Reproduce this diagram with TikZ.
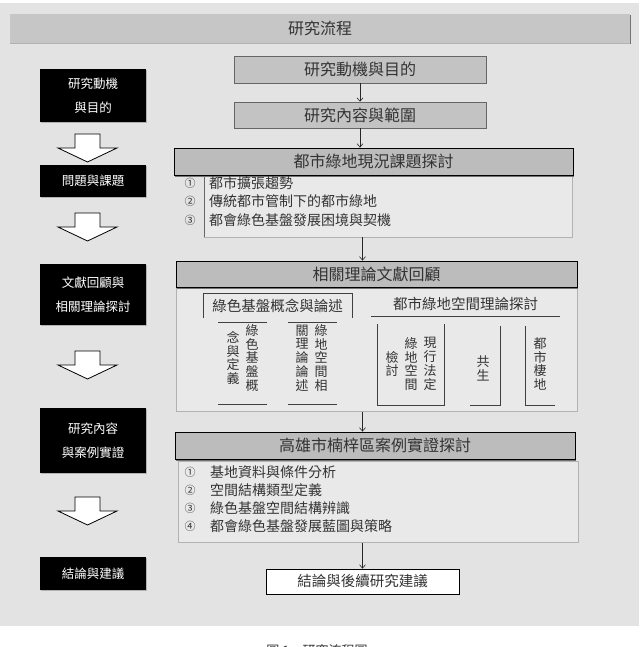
\documentclass[tikz,border=0pt]{standalone}
\usepackage{fontspec}
\setmainfont{Noto Sans CJK TC}
\usetikzlibrary{positioning,shadows,calc,arrows.meta}

\definecolor{bggray}{HTML}{E3E3E3}
\definecolor{titlegray}{HTML}{C6C6C6}
\definecolor{topgray}{HTML}{C3C3C3}
\definecolor{hdrgray}{HTML}{BCBCBC}
\definecolor{listgray}{HTML}{E9E9E9}

\begin{document}
\begin{tikzpicture}[x=1pt, y=-1pt,
    hdr/.style={draw=black, line width=0.8pt, fill=hdrgray, inner sep=0pt,
        font=\fontsize{16}{16}\selectfont, text=black!80,
        drop shadow={shadow xshift=0.6pt, shadow yshift=-1.5pt, fill=black!55, opacity=1}},
    topbox/.style={hdr, draw=black!60, line width=0.5pt, fill=topgray},
    leftbox/.style={fill=black, text=white, inner sep=0pt, minimum width=106pt, align=center,
        font=\fontsize{12.5}{23.5}\selectfont,
        drop shadow={shadow xshift=1.2pt, shadow yshift=-1.2pt, fill=black!30, opacity=1}},
    listbox/.style={draw=black!30, line width=0.5pt, fill=listgray, inner sep=0pt},
    listnum/.style={font=\fontsize{11}{11}\selectfont, inner sep=0pt, text=black!80},
    listtxt/.style={font=\fontsize{14}{14}\selectfont, inner sep=0pt, anchor=west, text=black!80},
    subtitle/.style={font=\fontsize{14.5}{14.5}\selectfont, inner sep=0pt, text=black!80},
    vtxt/.style={font=\fontsize{13}{13.8}\selectfont, align=center, inner sep=0pt, text width=13pt, text=black!80},
    frame/.style={draw=black!75, line width=0.6pt},
    flow/.style={->, >={Straight Barb[length=3.5pt,width=6pt]}, line width=0.6pt, black!85},
    blockarrow/.style={draw=black, line width=0.8pt, fill=white, line join=miter}
]
    \useasboundingbox (0,0) rectangle (639,647);
    \fill[bggray] (0,3) rectangle (639,626);

    % Title bar
    \node[hdr, draw=none, fill=titlegray, minimum width=620pt, minimum height=29pt,
        drop shadow={shadow xshift=0pt, shadow yshift=-1.2pt, fill=black!30, opacity=1}] (title) at (320,28.5) {研究流程};

    % Left column of stages
    \node[leftbox, minimum height=53pt] (lmotive) at (93,95.5) {研究動機\\與目的};
    \node[leftbox, minimum height=32pt] (lissue) at (93,181) {問題與課題};
    \node[leftbox, minimum height=61pt] (lreview) at (93,294.5) {文獻回顧與\\相關理論探討};
    \node[leftbox, minimum height=65pt] (lcase) at (93,440.5) {研究內容\\與案例實證};
    \node[leftbox, minimum height=33pt] (lconcl) at (93,573.5) {結論與建議};

    % Block arrows between stages
    \foreach \t in {134,213,351,497}
        \draw[blockarrow] (75,\t) -- (100,\t) -- (100,\t+14) -- (117,\t+14) -- (87.5,\t+28)
            -- (58,\t+14) -- (75,\t+14) -- cycle;

    % Right column: top boxes
    \node[topbox, minimum width=252pt, minimum height=27pt] (aim) at (360,69.5) {研究動機與目的};
    \node[topbox, minimum width=252pt, minimum height=26pt] (scope) at (360,115) {研究內容與範圍};

    % Issue block
    \node[listbox, minimum width=368pt, minimum height=61pt, anchor=north west] (issuelist) at (204,175.5) {};
    \draw[black!60, line width=0.6pt] (issuelist.north west) -- (issuelist.south west);
    \node[hdr, minimum width=399pt, minimum height=27pt] (issue) at (373.5,161.5) {都市綠地現況課題探討};
    \foreach \n/\t [count=\i] in {①/都市擴張趨勢, ②/傳統都市管制下的都市綠地, ③/都會綠色基盤發展困境與契機} {
        \node[listnum] (inum\i) at (190,{164.5+18.5*\i}) {\n};
        \node[listtxt] (itxt\i) at (209,{164.5+18.5*\i}) {\t};
    }

    % Theory review block
    \node[listbox, minimum width=401pt, minimum height=124pt, anchor=north west] (review) at (176,287) {};
    \node[hdr, minimum width=401pt, minimum height=26pt] (theory) at (376.5,274) {相關理論文獻回顧};

    \node[subtitle, minimum width=149pt, minimum height=25pt] (gbtitle) at (277.5,305.5) {綠色基盤概念與論述};
    \draw[frame] (gbtitle.south west) -- (gbtitle.north west) -- (gbtitle.north east) -- (gbtitle.south east);
    \node[subtitle, minimum width=189pt, minimum height=24pt] (ustitle) at (465.5,304) {都市綠地空間理論探討};
    \draw[frame] (ustitle.south west) -- (ustitle.south east);

    % vertical columns
    \node[vtxt] (gbdefa) at (252,358) {綠\\色\\基\\盤\\概};
    \node[vtxt] (gbdefb) at (233,358) {念\\與\\定\\義};
    \draw[frame] (218,322) -- (267,322);
    \draw[frame] (218,404) -- (267,404);

    \node[vtxt] (gbthya) at (321,358) {綠\\地\\空\\間\\相};
    \node[vtxt] (gbthyb) at (302,358) {關\\理\\論\\論\\述};
    \draw[frame] (288,322) -- (337,322);
    \draw[frame] (288,404) -- (337,404);

    \node[vtxt] (lawa) at (430,364) {現\\行\\法\\定};
    \node[vtxt] (lawb) at (411,364) {綠\\地\\空\\間};
    \node[vtxt] (lawc) at (392,364) {檢\\討};
    \draw[frame] (377,324) -- (377,405) -- (444,405) -- (444,324);

    \node[vtxt] (symb) at (483,368.5) {共\\生};
    \draw[frame] (470,405) -- (500,405) -- (500,326);

    \node[vtxt] (habit) at (540,364) {都\\市\\棲\\地};
    \draw[frame] (525,326) -- (525,405) -- (555,405);

    % Case study block
    \node[listbox, minimum width=400pt, minimum height=81pt, anchor=north west] (caselist) at (178,461) {};
    \node[hdr, minimum width=400pt, minimum height=27pt] (casehdr) at (375,445.5) {高雄市楠梓區案例實證探討};
    \foreach \n/\t [count=\i] in {①/基地資料與條件分析, ②/空間結構類型定義, ③/綠色基盤空間結構辨識, ④/都會綠色基盤發展藍圖與策略} {
        \node[listnum] (cnum\i) at (190,{454+18*\i}) {\n};
        \node[listtxt] (ctxt\i) at (210,{454+18*\i}) {\t};
    }

    % Conclusion
    \node[draw=black, line width=0.7pt, fill=white, inner sep=0pt, minimum width=193pt, minimum height=25pt,
        font=\fontsize{14.5}{14.5}\selectfont, text=black!80] (result) at (362.5,581.5) {結論與後續研究建議};

    % Flow arrows
    \draw[flow] (aim) -- (scope);
    \draw[flow] (scope.south) -- (scope.south |- issue.north);
    \draw[flow] (issuelist.south -| result) -- (theory.north -| result);
    \draw[flow] (review.south -| result) -- (casehdr.north -| result);
    \draw[flow] (caselist.south -| result) -- (result);

    % Caption (cut by the page edge)
    \node[anchor=north, inner sep=0pt, font=\fontsize{13}{13}\selectfont, text=black!80] (caption) at (317,644.5) {圖 1　研究流程圖};
\end{tikzpicture}
\end{document}
